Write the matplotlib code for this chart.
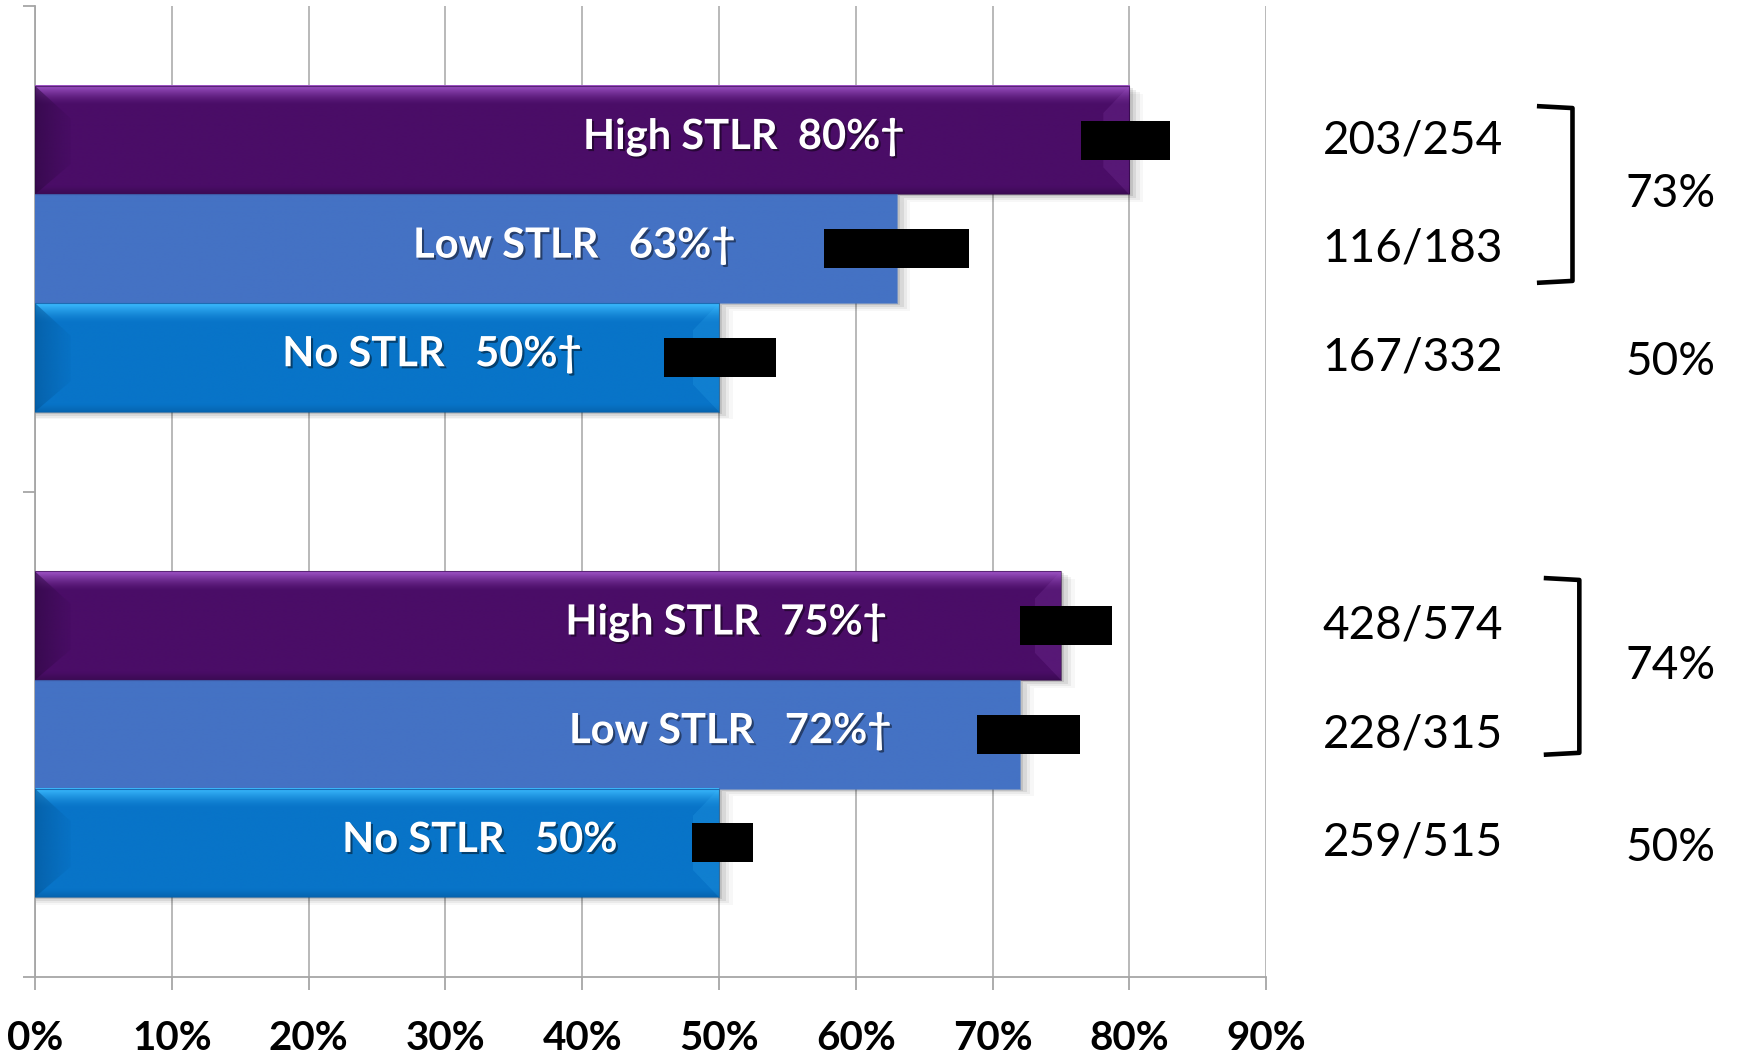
import numpy as np
import matplotlib.pyplot as plt
import matplotlib.patheffects as pe
from matplotlib.colors import to_rgb
from matplotlib.patches import Polygon, Rectangle

plt.rcParams['font.family'] = ['Lato', 'DejaVu Sans']

# two cohorts, three STLR groups each (top to bottom)
groups = ["High STLR", "Low STLR", "No STLR"]
label_gaps = ["  ", "   ", "   "]

rate_a = [80, 63, 50]
rate_b = [75, 72, 50]
dagger_a = [True, True, True]
dagger_b = [True, True, False]

# redaction boxes over the interval ends (low %, high %)
box_a = [(76.5, 83.0), (57.7, 68.3), (46.0, 54.2)]
box_b = [(72.0, 78.7), (68.9, 76.4), (48.0, 52.5)]

events_a = [203, 116, 167]
totals_a = [254, 183, 332]
events_b = [428, 228, 259]
totals_b = [574, 315, 515]

xticks = [0, 10, 20, 30, 40, 50, 60, 70, 80, 90]

# where the in-bar labels sit (centre, in %)
label_x_a = [51.8, 39.4, 29.0]
label_x_b = [50.5, 50.8, 32.5]

bar_styles = [
    dict(base="#4a0d67", light="#a055c8", dark="#2e0842", bevel=True),
    dict(base="#4472c4", light="#4472c4", dark="#4472c4", bevel=False),
    dict(base="#0874c8", light="#3cbcff", dark="#04579a", bevel=True),
]

fig = plt.figure(figsize=(17.42, 10.59), dpi=100)
ax = fig.add_axes([0.0201, 0.0774, 0.7067, 0.9169])

grid_col = "#a6a6a6"
bar_h = 0.2237


def draw_bar(y, w, base, light, dark, bevel):
    y0, y1 = y - bar_h / 2, y + bar_h / 2
    # soft drop shadow
    for k, a in enumerate([0.10, 0.07, 0.05, 0.03]):
        off = 0.004 * (k + 1)
        ax.add_patch(Rectangle((0, y0 + off), w + 0.25 * (k + 1), bar_h,
                               color="black", alpha=a, lw=0, zorder=2))
    n = 120
    t = np.linspace(0, 1, n)[:, None]
    b = np.array(to_rgb(base))
    lt = np.array(to_rgb(light))
    dk = np.array(to_rgb(dark))
    mix = np.clip(1 - t / 0.18, 0, 1) ** 1.5
    col = b * (1 - mix) + lt * mix
    low = np.clip((t - 0.93) / 0.07, 0, 1) * 0.5
    col = col * (1 - low) + dk * low
    img = np.repeat(col[:, None, :], 2, axis=1)
    ax.imshow(img, extent=(0, w, y1, y0), origin="upper", aspect="auto",
              interpolation="bilinear", zorder=3)
    if bevel:
        # left bevel: dark wedge fading to the right
        dx = 2.6
        wedge = Polygon([(0, y0), (dx, y0 + 0.3 * bar_h),
                         (dx, y1 - 0.28 * bar_h), (0, y1)],
                        closed=True, fc="none", ec="none")
        ax.add_patch(wedge)
        s = np.linspace(0, 1, 60)[None, :]
        shade = np.zeros((2, 60, 4))
        shade[..., :3] = dk
        shade[..., 3] = 0.55 * (1 - s) ** 1.2 + 0.08
        im = ax.imshow(shade, extent=(0, dx, y1, y0), origin="upper",
                       aspect="auto", interpolation="bilinear", zorder=4)
        im.set_clip_path(wedge)
        rx = 1.9
        ax.add_patch(Polygon([(w - rx, y0 + 0.25 * bar_h), (w, y0), (w, y1),
                              (w - rx, y1 - 0.25 * bar_h)],
                             closed=True, color=light, alpha=0.16, lw=0, zorder=4))
    ax.add_patch(Rectangle((0, y0), w, bar_h, fill=False, ec=dark, lw=0.8,
                           alpha=0.6, zorder=4))


shadow = [pe.SimplePatchShadow(offset=(1.5, -1.5), shadow_rgbFace="black", alpha=0.45),
          pe.Normal()]

# centre, values..., bracket x range, bracket centre shift
cohorts = [
    (0.5, rate_a, dagger_a, box_a, events_a, totals_a, label_x_a, (109.8, 112.4), 0.0),
    (1.5, rate_b, dagger_b, box_b, events_b, totals_b, label_x_b, (110.3, 112.9), -0.028),
]

for centre, rates, daggers, boxes, ev, tot, lx, (bx0, bx1), shift in cohorts:
    ys = centre + (np.arange(3) - 1) * bar_h
    for i in range(3):
        st = bar_styles[i]
        draw_bar(ys[i], rates[i], st["base"], st["light"], st["dark"], st["bevel"])
        lo, hi = boxes[i]
        ax.barh(ys[i], hi - lo, left=lo, height=0.08, color="black", zorder=6)
        txt = f"{groups[i]}{label_gaps[i]}{rates[i]}%" + ("\u2020" if daggers[i] else "")
        ax.text(lx[i], ys[i] - 0.006, txt, ha="center", va="center", color="white",
                fontsize=30, fontweight="bold", zorder=7, path_effects=shadow)
        ax.text(107.3, ys[i], f"{ev[i]}/{tot[i]}", ha="right", va="center",
                fontsize=33, color="black", clip_on=False)

    # pooled STLR rate with bracket, then no-STLR rate
    pooled = round(100 * (ev[0] + ev[1]) / (tot[0] + tot[1]))
    ymid = (ys[0] + ys[1]) / 2 + shift
    ax.text(119.6, ymid, f"{pooled}%", ha="center", va="center", fontsize=33,
            clip_on=False)
    ax.text(119.6, ys[2] + 0.01, f"{round(100 * ev[2] / tot[2])}%", ha="center",
            va="center", fontsize=33, clip_on=False)
    hb = 0.182
    ax.plot([bx0, bx1, bx1, bx0], [ymid - hb, ymid - hb + 0.004, ymid + hb - 0.004, ymid + hb],
            color="black", lw=3.3, clip_on=False, solid_joinstyle="round",
            solid_capstyle="butt")

ax.set_xlim(0, 90)
ax.set_ylim(2, 0)
ax.set_xticks(xticks)
ax.set_xticklabels([f"{v}%" for v in xticks], fontsize=29, fontweight="bold")
ax.set_yticks([0, 1, 2])
ax.set_yticklabels([])
ax.grid(axis="x", color=grid_col, lw=1.1, zorder=0)
ax.set_axisbelow(True)
for s in ["top", "right"]:
    ax.spines[s].set_visible(False)
for s in ["left", "bottom"]:
    ax.spines[s].set_color(grid_col)
    ax.spines[s].set_linewidth(1.3)
ax.tick_params(axis="both", color=grid_col, length=9, width=1.3)
ax.tick_params(axis="x", pad=22)

fig.savefig("out.png", dpi=100)
